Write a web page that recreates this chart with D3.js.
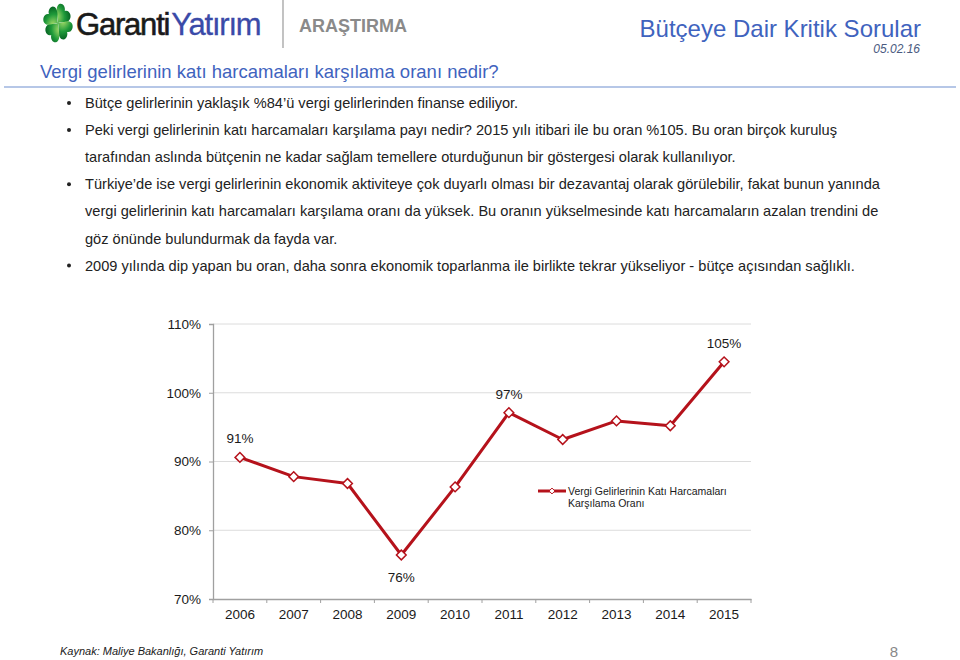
<!DOCTYPE html>
<html>
<head>
<meta charset="utf-8">
<script src="https://cdnjs.cloudflare.com/ajax/libs/d3/7.8.5/d3.min.js"></script>
<style>
body{margin:0;background:#fff;}
svg{display:block;font-family:"Liberation Sans",Arial,sans-serif;}
</style>
</head>
<body>
<div id="page"></div>
<script>
// chart data
var years = ["2006","2007","2008","2009","2010","2011","2012","2013","2014","2015"];
var ratio = [90.6, 87.8, 86.8, 76.4, 86.3, 97.1, 93.2, 95.9, 95.2, 104.5];
var yTicks = [70, 80, 90, 100, 110];
var labelled = {"2006":"91%","2009":"76%","2011":"97%","2015":"105%"};
var seriesName = ["Vergi Gelirlerinin Katı Harcamaları","Karşılama Oranı"];

var bullets = [
	["Bütçe gelirlerinin yaklaşık %84’ü vergi gelirlerinden finanse ediliyor."],
	["Peki vergi gelirlerinin katı harcamaları karşılama payı nedir? 2015 yılı itibari ile bu oran %105. Bu oran birçok kuruluş",
	 "tarafından aslında bütçenin ne kadar sağlam temellere oturduğunun bir göstergesi olarak kullanılıyor."],
	["Türkiye’de ise vergi gelirlerinin ekonomik aktiviteye çok duyarlı olması bir dezavantaj olarak görülebilir, fakat bunun yanında",
	 "vergi gelirlerinin katı harcamaları karşılama oranı da yüksek. Bu oranın yükselmesinde katı harcamaların azalan trendini de",
	 "göz önünde bulundurmak da fayda var."],
	["2009 yılında dip yapan bu oran, daha sonra ekonomik toparlanma ile birlikte tekrar yükseliyor -  bütçe açısından sağlıklı."]
];

var W = 960, H = 660;
var svg = d3.select("#page").append("svg")
	.attr("width", W).attr("height", H);

// ---- header ----
var defs = svg.append("defs");
var grad = defs.append("radialGradient").attr("id","leafGrad")
	.attr("cx","30%").attr("cy","80%").attr("r","90%");
grad.append("stop").attr("offset","0%").attr("stop-color","#a6dc6a");
grad.append("stop").attr("offset","60%").attr("stop-color","#1f9a3a");
grad.append("stop").attr("offset","100%").attr("stop-color","#0a6a26");

var clover = svg.append("g").attr("transform","translate(58,23) scale(0.8,1.05)");
[45,135,225,315].forEach(function(a){
	clover.append("path")
		.attr("d","M0,0 C-3,-4 -12,-6 -12,-12 C-12,-17 -5,-19 -2,-14 C0,-19 9,-18 8,-11 C7,-6 2,-4 0,0Z")
		.attr("transform","rotate(" + a + ")")
		.attr("fill","url(#leafGrad)");
});

var logo = svg.append("text").attr("x",76).attr("y",35)
	.style("font-size","31px").style("letter-spacing","-1.2px");
logo.append("tspan").text("Garanti").attr("fill","#1a1a1a")
	.attr("stroke","#1a1a1a").attr("stroke-width",0.6);
logo.append("tspan").text("Yatırım").attr("fill","#3a4aa8").attr("dx",2)
	.attr("stroke","#3a4aa8").attr("stroke-width",0.3);

svg.append("line").attr("x1",283).attr("x2",283).attr("y1",0).attr("y2",48)
	.attr("stroke","#9a9a9a").attr("stroke-width",1.2);
svg.append("text").attr("x",299).attr("y",32).text("ARAŞTIRMA")
	.attr("fill","#8a8a8a").style("font-size","18px").style("font-weight","bold");

svg.append("text").attr("x",921).attr("y",37).attr("text-anchor","end")
	.text("Bütçeye Dair Kritik Sorular")
	.attr("fill","#3f63be").style("font-size","24px");
svg.append("text").attr("x",920).attr("y",53).attr("text-anchor","end")
	.text("05.02.16")
	.attr("fill","#4a5a80").style("font-size","12px").style("font-style","italic");

svg.append("text").attr("x",40).attr("y",78)
	.text("Vergi gelirlerinin katı harcamaları karşılama oranı nedir?")
	.attr("fill","#3f63be").style("font-size","18.5px");
svg.append("line").attr("x1",4).attr("x2",956).attr("y1",87).attr("y2",87)
	.attr("stroke","#6f8fcf").attr("stroke-width",1.2);

// ---- bullets ----
var lineY = 108;
bullets.forEach(function(b){
	svg.append("circle").attr("cx",69).attr("cy",lineY-5).attr("r",2).attr("fill","#222");
	b.forEach(function(t){
		svg.append("text").attr("x",85).attr("y",lineY).text(t)
			.attr("fill","#222").style("font-size","14.6px");
		lineY += 27.1;
	});
});

// ---- chart ----
var margin = {left:213, right:751, top:324, bottom:599};
var x = d3.scaleBand().domain(years).range([margin.left, margin.right]);
var y = d3.scaleLinear().domain([70,110]).range([margin.bottom, margin.top]);

var chart = svg.append("g");

chart.append("g").selectAll("line").data(yTicks.slice(1)).join("line")
	.attr("x1",margin.left).attr("x2",margin.right)
	.attr("y1",function(d){return y(d);}).attr("y2",function(d){return y(d);})
	.attr("stroke","#dcdcdc").attr("stroke-width",1);

var yAxis = chart.append("g").attr("transform","translate(" + margin.left + ",0)")
	.call(d3.axisLeft(y).tickValues(yTicks).tickSize(4).tickPadding(8)
		.tickFormat(function(d){return d + "%";}));
var xAxis = chart.append("g").attr("transform","translate(0," + margin.bottom + ")")
	.call(d3.axisBottom(x).tickSize(0).tickPadding(10));
// category boundary ticks
xAxis.selectAll(".bnd").data(years.concat(["end"])).join("line")
	.attr("class","bnd")
	.attr("x1",function(d,i){return margin.left + i*x.step();})
	.attr("x2",function(d,i){return margin.left + i*x.step();})
	.attr("y1",0).attr("y2",4).attr("stroke","#a0a0a0");

[yAxis, xAxis].forEach(function(ax){
	ax.select(".domain").attr("stroke","#a0a0a0").attr("stroke-width",1.3);
	ax.selectAll(".tick line").attr("stroke","#a0a0a0");
	ax.selectAll(".tick text").attr("fill","#1a1a1a")
		.style("font-size","13.5px").style("font-family","Liberation Sans, Arial, sans-serif");
});

var pts = years.map(function(yr,i){return {yr:yr, v:ratio[i]};});
var cx = function(d){return x(d.yr) + x.bandwidth()/2;};

chart.append("path").datum(pts)
	.attr("d", d3.line().x(cx).y(function(d){return y(d.v);}))
	.attr("fill","none").attr("stroke","#b5121b").attr("stroke-width",3)
	.attr("stroke-linejoin","round");

chart.selectAll(".mk").data(pts).join("path").attr("class","mk")
	.attr("d", d3.symbol(d3.symbolDiamond2, 60))
	.attr("transform",function(d){return "translate(" + cx(d) + "," + y(d.v) + ")";})
	.attr("fill","#fff").attr("stroke","#b5121b").attr("stroke-width",1.5);

chart.selectAll(".lbl").data(pts.filter(function(d){return labelled[d.yr];})).join("text")
	.attr("class","lbl")
	.attr("x",cx)
	.attr("y",function(d){return d.yr == "2009" ? y(d.v) + 27 : y(d.v) - 14;})
	.attr("text-anchor","middle")
	.text(function(d){return labelled[d.yr];})
	.attr("fill","#1a1a1a").style("font-size","13.5px");

// legend
var lg = chart.append("g").attr("transform","translate(538,491)");
lg.append("line").attr("x1",0).attr("x2",28).attr("stroke","#b5121b").attr("stroke-width",3);
lg.append("path").attr("d", d3.symbol(d3.symbolDiamond2, 22)).attr("transform","translate(14,0)")
	.attr("fill","#fff").attr("stroke","#b5121b").attr("stroke-width",1);
lg.selectAll("text").data(seriesName).join("text")
	.attr("x",30).attr("y",function(d,i){return 4 + i*12;})
	.text(function(d){return d;})
	.attr("fill","#1a1a1a").style("font-size","10.5px");

// ---- footer ----
svg.append("text").attr("x",60).attr("y",655)
	.text("Kaynak: Maliye Bakanlığı, Garanti Yatırım")
	.attr("fill","#1a1a1a").style("font-size","11px").style("font-style","italic");
svg.append("text").attr("x",894).attr("y",657).attr("text-anchor","middle").text("8")
	.attr("fill","#888").style("font-size","15px");
</script>
</body>
</html>
